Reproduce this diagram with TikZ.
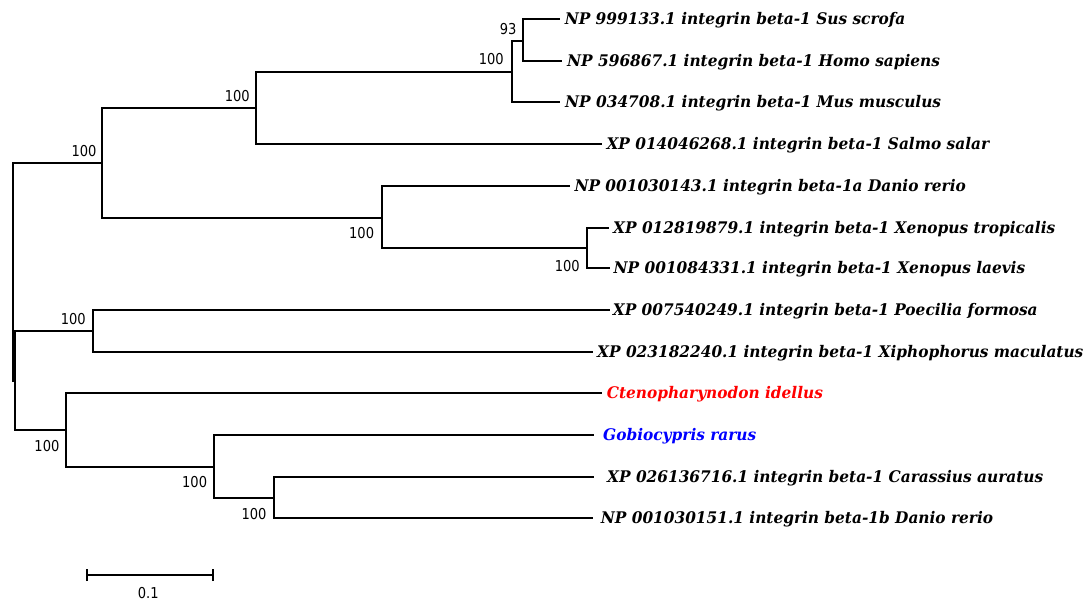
\documentclass[tikz,border=0pt]{standalone}
\usepackage{fontspec}
\newfontfamily\leaffont{DejaVu Serif}[FakeStretch=0.96]
\newfontfamily\bsfont{DejaVu Sans}[FakeStretch=0.87]
\definecolor{leafred}{RGB}{255,0,0}
\definecolor{leafblue}{RGB}{0,0,255}
\begin{document}
\begin{tikzpicture}[x=1pt,y=-1pt,
  branch/.style={line width=1.8pt,line join=miter,line cap=rect},
  thick branch/.style={line width=2.6pt,line join=miter,line cap=rect},
  leaf/.style={inner sep=0pt,anchor=base west,font=\leaffont\bfseries\itshape\fontsize{16}{19}\selectfont},
  boot/.style={inner sep=0pt,anchor=east,font=\bsfont\fontsize{15}{17}\selectfont}]
\useasboundingbox (0,0) rectangle (1089,601);
% internal nodes
\coordinate (R) at (13,272);
\coordinate (A) at (102,163);
\coordinate (B) at (256,108);
\coordinate (C) at (512,72);
\coordinate (E) at (523,41);
\coordinate (F) at (382,218);
\coordinate (D) at (587,248);
\coordinate (R2) at (15,381);
\coordinate (G) at (93,331);
\coordinate (H) at (66,430);
\coordinate (I) at (214,467);
\coordinate (J) at (274,498);
% tips
\coordinate (tSus) at (559,19);
\coordinate (tHomo) at (561,61);
\coordinate (tMus) at (559,102);
\coordinate (tSalmo) at (601,144);
\coordinate (tDanA) at (569,186);
\coordinate (tTrop) at (608,228);
\coordinate (tLaev) at (609,268);
\coordinate (tPoec) at (609,310);
\coordinate (tXiph) at (592,352);
\coordinate (tCten) at (601,393);
\coordinate (tGob) at (593,435);
\coordinate (tCar) at (593,477);
\coordinate (tDanB) at (592,518);
% branches
\draw[thick branch] (R) |- (A);
\draw[thick branch] (R) |- (R2);
\draw[branch] (A) |- (B);
\draw[branch] (A) |- (F);
\draw[branch] (B) |- (C);
\draw[branch] (B) |- (tSalmo);
\draw[branch] (C) |- (E);
\draw[branch] (C) |- (tMus);
\draw[branch] (E) |- (tSus);
\draw[branch] (E) |- (tHomo);
\draw[branch] (F) |- (tDanA);
\draw[branch] (F) |- (D);
\draw[branch] (D) |- (tTrop);
\draw[branch] (D) |- (tLaev);
\draw[branch] (R2) |- (G);
\draw[branch] (R2) |- (H);
\draw[branch] (G) |- (tPoec);
\draw[branch] (G) |- (tXiph);
\draw[branch] (H) |- (tCten);
\draw[branch] (H) |- (I);
\draw[branch] (I) |- (tGob);
\draw[branch] (I) |- (J);
\draw[thick branch] (J) |- (tCar);
\draw[branch] (J) |- (tDanB);
% leaf labels
\node[leaf] (lSus) at ([shift={(5.6,5.8)}]tSus) {NP 999133.1 integrin beta-1 Sus scrofa};
\node[leaf] (lHomo) at ([shift={(6,5.8)}]tHomo) {NP 596867.1 integrin beta-1 Homo sapiens};
\node[leaf] (lMus) at ([shift={(6,5.8)}]tMus) {NP 034708.1 integrin beta-1 Mus musculus};
\node[leaf] (lSalmo) at ([shift={(5.3,5.8)}]tSalmo) {XP 014046268.1 integrin beta-1 Salmo salar};
\node[leaf] (lDanA) at ([shift={(5.3,5.8)}]tDanA) {NP 001030143.1 integrin beta-1a Danio rerio};
\node[leaf] (lTrop) at ([shift={(5,5.8)}]tTrop) {XP 012819879.1 integrin beta-1 Xenopus tropicalis};
\node[leaf] (lLaev) at ([shift={(4.5,5.8)}]tLaev) {NP 001084331.1 integrin beta-1 Xenopus laevis};
\node[leaf] (lPoec) at ([shift={(3.7,5.8)}]tPoec) {XP 007540249.1 integrin beta-1 Poecilia formosa};
\node[leaf] (lXiph) at ([shift={(5,5.8)}]tXiph) {XP 023182240.1 integrin beta-1 Xiphophorus maculatus};
\node[leaf,text=leafred] (lCten) at ([shift={(5.6,5.8)}]tCten) {Ctenopharynodon idellus};
\node[leaf,text=leafblue] (lGob) at ([shift={(10,5.8)}]tGob) {Gobiocypris rarus};
\node[leaf] (lCar) at ([shift={(14,5.8)}]tCar) {XP 026136716.1 integrin beta-1 Carassius auratus};
\node[leaf] (lDanB) at ([shift={(8.7,5.8)}]tDanB) {NP 001030151.1 integrin beta-1b Danio rerio};
% bootstrap values
\node[boot] (bA) at (96.7,150.7) {100};
\node[boot] (bB) at (250,95.7) {100};
\node[boot] (bC) at (504,59.3) {100};
\node[boot] (bE) at (516.7,29.3) {93};
\node[boot] (bF) at (374.3,232.7) {100};
\node[boot] (bD) at (580,266) {100};
\node[boot] (bG) at (86,319) {100};
\node[boot] (bH) at (59.6,445.7) {100};
\node[boot] (bI) at (207.3,482.3) {100};
\node[boot] (bJ) at (266.7,514.3) {100};
% scale bar
\coordinate (s0) at (87,575);
\coordinate (s1) at (213,575);
\draw[branch] (s0) -- (s1);
\draw[thick branch,line cap=butt] ([yshift=-6]s0) -- ([yshift=6]s0);
\draw[thick branch,line cap=butt] ([yshift=-6]s1) -- ([yshift=6]s1);
\node[boot,anchor=center] (sl) at (148.3,592.7) {0.1};
\end{tikzpicture}
\end{document}
